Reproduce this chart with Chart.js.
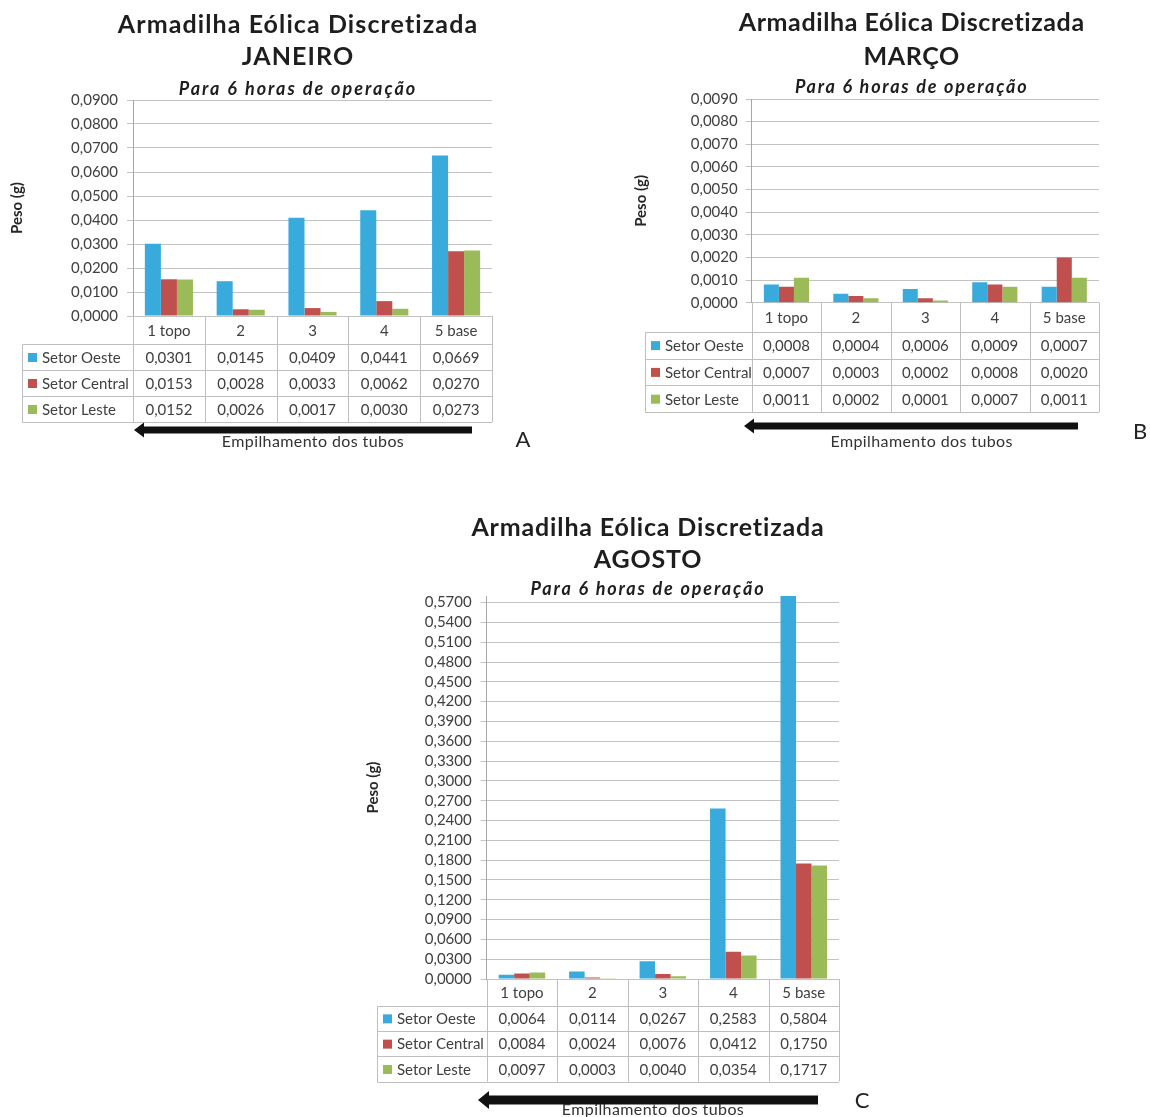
<!DOCTYPE html>
<html lang="pt">
<head>
<meta charset="utf-8">
<title>Armadilha Eólica Discretizada</title>
<script src="https://cdn.jsdelivr.net/npm/chart.js@4.4.1/dist/chart.umd.min.js"></script>
<style>
  html, body { margin: 0; padding: 0; background: #fff; overflow: hidden; }
  body { position: relative; width: 1150px; height: 1117px; }
  .grafico { position: absolute; }
</style>
</head>
<body>
<div class="grafico" style="left:0;top:0;width:560px;height:460px"><canvas id="graficoJaneiro"></canvas></div>
<div class="grafico" style="left:625px;top:0;width:525px;height:460px"><canvas id="graficoMarco"></canvas></div>
<div class="grafico" style="left:360px;top:500px;width:520px;height:617px"><canvas id="graficoAgosto"></canvas></div>
<script>
const categorias = ['1 topo', '2', '3', '4', '5 base'];
const nomesSetores = ['Setor Oeste', 'Setor Central', 'Setor Leste'];
const coresSetores = ['#38aadc', '#c0504d', '#9bbb59'];

const janeiroOeste = [0.0301, 0.0145, 0.0409, 0.0441, 0.0669];
const janeiroCentral = [0.0153, 0.0028, 0.0033, 0.0062, 0.0270];
const janeiroLeste = [0.0152, 0.0026, 0.0017, 0.0030, 0.0273];

const marcoOeste = [0.0008, 0.0004, 0.0006, 0.0009, 0.0007];
const marcoCentral = [0.0007, 0.0003, 0.0002, 0.0008, 0.0020];
const marcoLeste = [0.0011, 0.0002, 0.0001, 0.0007, 0.0011];

const agostoOeste = [0.0064, 0.0114, 0.0267, 0.2583, 0.5804];
const agostoCentral = [0.0084, 0.0024, 0.0076, 0.0412, 0.1750];
const agostoLeste = [0.0097, 0.0003, 0.0040, 0.0354, 0.1717];

// eixos Y (max e passo das marcas)
const eixoJaneiro = { max: 0.09, passo: 0.01 };
const eixoMarco = { max: 0.009, passo: 0.001 };
const eixoAgosto = { max: 0.58, passo: 0.03 };

const fonte = 'Lato, "Open Sans", sans-serif';
const corTexto = '#404040';

function formatar(v) {
    return Number(v).toFixed(4).replace('.', ',');
}

// titulos, tabela de dados, seta e letra do painel
const moldura = {
    id: 'moldura',
    afterDraw(chart, args, o) {
        const ctx = chart.ctx;
        const a = chart.chartArea;
        const x = chart.scales.x;
        const n = chart.data.labels.length;
        const larg = (a.right - a.left) / n;
        const linha = (x1, y1, x2, y2) => {
            ctx.beginPath();
            ctx.moveTo(x1, y1);
            ctx.lineTo(x2, y2);
            ctx.stroke();
        };
        ctx.save();

        ctx.fillStyle = '#1e1e1e';
        ctx.textAlign = 'center';
        ctx.textBaseline = 'middle';
        ctx.font = 'bold 25px ' + fonte;
        ctx.letterSpacing = o.espTitulo + 'px';
        ctx.fillText('Armadilha Eólica Discretizada', o.tituloX, o.tituloY[0]);
        ctx.fillText(o.mes, o.tituloX, o.tituloY[1]);
        ctx.font = 'italic bold 18px ' + fonte;
        ctx.letterSpacing = o.espSub + 'px';
        ctx.fillText('Para 6 horas de operação', o.tituloX, o.tituloY[2]);
        ctx.letterSpacing = '0px';

        // grade da tabela
        const topo = a.bottom;
        const yLin = topo + o.hCab;
        const nLin = chart.data.datasets.length;
        const fundo = yLin + o.hLin * nLin;
        ctx.strokeStyle = '#bfbfbf';
        ctx.lineWidth = 1;
        for (let i = 0; i < n; i++) {
            const xx = Math.round(x.getPixelForValue(i) + larg / 2) + 0.5;
            linha(xx, topo, xx, fundo);
        }
        const xEixo = Math.round(a.left) + 0.5;
        linha(xEixo, topo, xEixo, fundo);
        for (let r = 0; r <= nLin; r++) {
            const yy = Math.round(yLin + r * o.hLin) + 0.5;
            linha(o.esq + 0.5, yy, a.right, yy);
        }
        linha(o.esq + 0.5, Math.round(yLin) + 0.5, o.esq + 0.5, Math.round(fundo) + 0.5);

        // textos da tabela
        ctx.font = '15px ' + fonte;
        ctx.fillStyle = corTexto;
        chart.data.labels.forEach((rot, i) => {
            ctx.textAlign = 'center';
            ctx.fillText(rot, x.getPixelForValue(i), topo + o.hCab / 2 + 1);
        });
        chart.data.datasets.forEach((ds, r) => {
            const yc = yLin + o.hLin * (r + 0.5) + 1;
            ctx.fillStyle = ds.backgroundColor;
            ctx.fillRect(o.esq + 6, yc - 5, 9, 9);
            ctx.fillStyle = corTexto;
            ctx.textAlign = 'left';
            ctx.fillText(ds.label, o.esq + 20, yc);
            ctx.textAlign = 'center';
            ds.data.forEach((v, i) => ctx.fillText(formatar(v), x.getPixelForValue(i), yc));
        });

        // seta do empilhamento
        const s = o.seta;
        ctx.fillStyle = '#111';
        ctx.fillRect(s.x1 + s.ponta, s.y - s.esp / 2, s.x2 - s.x1 - s.ponta, s.esp);
        ctx.beginPath();
        ctx.moveTo(s.x1, s.y);
        ctx.lineTo(s.x1 + s.ponta, s.y - s.alt / 2);
        ctx.lineTo(s.x1 + s.ponta, s.y + s.alt / 2);
        ctx.closePath();
        ctx.fill();

        ctx.fillStyle = '#333';
        ctx.textAlign = 'center';
        ctx.font = '16px ' + fonte;
        ctx.letterSpacing = '0.4px';
        ctx.fillText('Empilhamento dos tubos', o.legX, o.legY);
        ctx.letterSpacing = '0px';

        ctx.font = '22px ' + fonte;
        ctx.fillStyle = '#222';
        ctx.fillText(o.letra, o.letraX, o.letraY);
        ctx.restore();
    }
};

function criarGrafico(id, series, eixo, d) {
    new Chart(document.getElementById(id), {
        type: 'bar',
        data: {
            labels: categorias,
            datasets: nomesSetores.map((nome, i) => ({
                label: nome,
                data: series[i],
                backgroundColor: coresSetores[i],
                categoryPercentage: d.grupo,
                barPercentage: 1
            }))
        },
        options: {
            responsive: true,
            maintainAspectRatio: false,
            animation: false,
            layout: { padding: { left: 0, top: d.topo, right: d.dir, bottom: d.baixo } },
            plugins: {
                legend: { display: false },
                tooltip: { enabled: false },
                moldura: d.moldura
            },
            scales: {
                x: { display: false },
                y: {
                    min: 0,
                    max: eixo.max,
                    afterFit: s => { s.width = d.largY; },
                    ticks: {
                        stepSize: eixo.passo,
                        includeBounds: false,
                        autoSkip: false,
                        padding: d.tickPad,
                        color: corTexto,
                        font: { family: fonte, size: 15 },
                        callback: v => formatar(v)
                    },
                    grid: { color: '#c3c3c3', tickLength: 6 },
                    border: { color: '#a6a6a6' },
                    title: {
                        display: true,
                        text: 'Peso (g)',
                        color: '#262626',
                        font: { family: fonte, size: 15, weight: 'bold' },
                        padding: { top: d.pesoPad, bottom: 0 }
                    }
                }
            }
        },
        plugins: [moldura]
    });
}

criarGrafico('graficoJaneiro', [janeiroOeste, janeiroCentral, janeiroLeste], eixoJaneiro, {
    grupo: 0.67, topo: 100, dir: 68, baixo: 144, largY: 133, tickPad: 9, pesoPad: 8,
    moldura: {
        mes: 'JANEIRO', tituloX: 298, tituloY: [25, 57, 89], espTitulo: 1.1, espSub: 2,
        esq: 22, hCab: 28, hLin: 26,
        seta: { x1: 134, x2: 472, y: 430, esp: 7, alt: 15, ponta: 10 },
        legX: 313, legY: 442, letra: 'A', letraX: 523, letraY: 440
    }
});

criarGrafico('graficoMarco', [marcoOeste, marcoCentral, marcoLeste], eixoMarco, {
    grupo: 0.65, topo: 99, dir: 51, baixo: 157.3, largY: 126.7, tickPad: 8, pesoPad: 7,
    moldura: {
        mes: 'MARÇO', tituloX: 286.7, tituloY: [23, 57, 87], espTitulo: 0.6, espSub: 1.8,
        esq: 20, hCab: 29, hLin: 26.8,
        seta: { x1: 119, x2: 453, y: 426, esp: 7, alt: 15, ponta: 10 },
        legX: 296.7, legY: 442, letra: 'B', letraX: 515, letraY: 432
    }
});

criarGrafico('graficoAgosto', [agostoOeste, agostoCentral, agostoLeste], eixoAgosto, {
    grupo: 0.66, topo: 96, dir: 41, baixo: 138, largY: 126.7, tickPad: 9, pesoPad: 4,
    moldura: {
        mes: 'AGOSTO', tituloX: 288, tituloY: [28, 60, 89], espTitulo: 0.85, espSub: 1.85,
        esq: 17, hCab: 26.7, hLin: 25.3,
        seta: { x1: 118, x2: 458, y: 600, esp: 9, alt: 18, ponta: 11 },
        legX: 293, legY: 610, letra: 'C', letraX: 502, letraY: 601
    }
});
</script>
</body>
</html>
